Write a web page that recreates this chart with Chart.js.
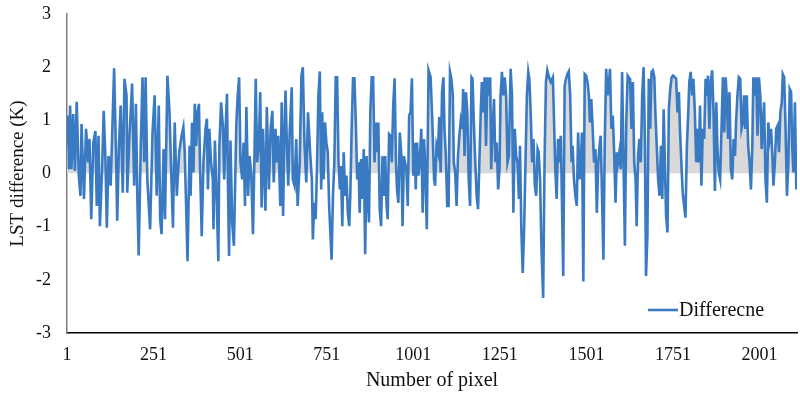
<!DOCTYPE html>
<html><head><meta charset="utf-8">
<script src="https://cdn.jsdelivr.net/npm/chart.js@4/dist/chart.umd.min.js"></script>
<style>html,body{margin:0;padding:0;background:#fff;} canvas{display:block;}</style>
</head><body>
<canvas id="c" width="800" height="398"></canvas>
<script>
// Pixel number (x) of each vertex
const pixelIndex = [
1,4,7,10,14,19,24,29,35,40,43,50,56,62,66,71,77,83,87,92,96,102,107,112,116,121,127,132,137,143,146,151,156,162,167,173,175,181,189,195,200,204,208,214,219,224,228,233,241,248,254,260,266,270,274,280,284,291,297,301,307,312,318,325,332,337,341,349,
355,358,362,366,370,374,378,382,385,390,395,401,405,408,412,417,422,424,428,432,438,441,446,451,455,459,463,466,469,473,478,483,490,494,498,502,507,511,515,519,524,528,533,538,542,546,550,555,559,563,567,571,574,578,584,589,594,598,603,607,611,617,621,625,628,632,636,640,644,650,653,658,663,667,673,678,682,687,692,697,
703,708,711,715,719,723,727,731,735,738,742,746,750,754,758,762,765,769,773,777,781,785,789,792,796,800,804,808,812,816,819,823,827,831,835,839,843,846,850,854,858,862,866,870,873,877,881,885,889,893,897,900,904,908,912,916,920,924,927,931,935,939,943,947,951,954,958,962,966,970,974,977,981,985,989,993,997,1001,1005,1008,1012,1016,1020,1024,1028,1032,1035,1040,1045,
1051,1056,1061,1064,1068,1072,1076,1080,1084,1088,1091,1095,1099,1103,1107,1111,1115,1118,1122,1126,1130,1134,1138,1142,1145,1149,1153,1157,1161,1165,1169,1172,1176,1180,1184,1188,1192,1196,1199,1203,1207,1211,1215,1219,1223,1226,1230,1234,1238,1242,1246,1250,1253,1257,1261,1265,1269,1273,1277,1282,1286,1290,1294,1298,1302,1306,1309,1313,1317,1321,1325,1329,1333,1336,1340,1344,1348,1352,1356,1360,1363,1367,1371,1376,1380,1384,1388,1393,1398,
1404,1407,1411,1415,1419,1423,1427,1430,1434,1438,1442,1446,1450,1454,1458,1461,1465,1469,1473,1477,1481,1485,1488,1492,1496,1500,1504,1508,1511,1515,1519,1523,1527,1531,1535,1539,1542,1546,1550,1554,1558,1562,1566,1569,1573,1577,1581,1585,1589,1592,1596,1600,1604,1608,1612,1616,1620,1623,1627,1631,1635,1639,1643,1646,1650,1654,1658,1662,1666,1670,1673,1677,1681,1685,1689,1693,1697,1700,1704,1708,1712,1716,1720,1724,1727,1731,1735,1739,1743,1747,1751,
1756,1760,1764,1768,1771,1775,1779,1783,1787,1791,1795,1798,1802,1806,1810,1814,1818,1822,1825,1829,1833,1837,1841,1845,1849,1852,1856,1860,1864,1868,1872,1876,1879,1883,1887,1891,1895,1899,1903,1906,1910,1914,1918,1922,1926,1930,1933,1937,1941,1945,1949,1953,1956,1960,1964,1968,1972,1976,1980,1983,1987,1991,1995,1999,2003,2007,2010,2014,2018,2022,2026,2030,2034,2038,2041,2045,2049,2053,2057,2061,2065,2068,2072,2076,2080,2084,2088,2092,2095,2099,2103,2107,2109
];
// LST difference (K) at each vertex
const lstDiff = [
0.52,1.09,0.08,1.28,0.08,1.12,0.05,1.35,-0.04,-0.42,0.93,-0.48,0.84,0.21,0.65,-0.86,0.58,0.8,-0.61,0.71,-0.99,0.02,1.18,0.27,-1.02,0.33,-0.23,0.84,1.98,0.21,-0.89,0.52,1.28,-0.36,1.78,1.47,-0.36,0.65,1.69,-0.23,1.31,-0.42,-1.54,0.52,1.81,0.21,1.81,-0.11,-1.05,0.77,1.47,-0.42,1.28,-0.86,-1.14,0.46,-0.86,1.84,1.15,0.21,-1.02,0.96,-0.42,0.4,0.71,0.87,0.4,-1.65,
0.52,-0.42,0.96,0.02,1.31,0.52,1.15,1.31,0.21,-1.18,0.21,0.84,1.03,-0.3,0.84,0.21,-0.11,-1.05,0.62,-0.17,-1.65,0.52,1.34,0.9,-0.11,0.84,1.5,-0.3,-1.55,0.62,-0.92,-1.36,0.93,1.47,1.81,0.21,-0.11,0.58,-0.61,1.25,-0.42,0.33,0.02,-1.14,0.21,1.78,0.21,0.52,1.53,-0.64,0.84,-0.08,-0.7,1.25,-0.3,0.84,1.18,-0.17,0.84,0.21,0.71,-0.61,1.34,-0.8,0.52,1.56,0.52,-0.23,0.77,1.62,-0.11,-0.23,0.65,-0.61,0.21,1.84,2.0,0.52,-0.17,1.15,
0.4,-0.11,-1.24,-0.55,-0.86,0.14,1.47,1.92,-0.3,1.15,-0.11,0.96,0.58,0.4,-0.61,-1.18,-1.62,-0.42,0.21,1.81,1.81,0.21,-0.3,0.14,-0.99,0.4,-0.42,-0.04,-0.74,-0.99,-0.42,0.84,1.79,1.79,0.96,-0.11,0.21,-0.74,0.27,-0.48,0.46,-1.52,0.33,-0.55,-0.92,1.18,1.81,1.81,0.21,0.96,0.4,0.96,-0.67,-0.99,0.33,-0.42,0.33,-0.61,-0.86,0.74,0.71,0.21,1.28,1.79,0.21,-0.3,-0.55,0.77,0.4,-0.99,0.33,0.21,0.08,-0.61,1.09,1.15,1.79,-0.04,0.58,-0.3,0.58,-0.04,0.27,0.84,-0.74,0.65,0.21,-1.05,1.94,
1.81,0.96,-0.11,-0.23,0.52,0.4,1.06,0.02,1.53,1.81,0.84,0.33,-0.61,-0.61,1.91,1.78,1.47,0.21,0.02,-0.61,0.33,0.71,0.99,0.84,1.59,0.33,1.53,1.15,-0.11,-0.61,1.81,1.78,0.9,0.21,-0.42,-0.67,0.27,1.21,1.72,1.15,1.81,0.52,1.81,1.47,1.81,0.08,0.84,1.4,0.21,0.58,-0.3,0.08,1.47,1.91,1.47,1.81,1.47,0.21,0.33,1.97,1.47,-0.74,0.84,0.33,0.21,-0.48,0.52,-1.05,-1.87,-1.05,0.21,1.47,1.91,1.78,1.15,0.21,0.65,-0.23,-0.42,0.46,0.4,-0.11,-1.36,-2.34,0.21,1.72,1.94,1.81,1.72,
1.81,1.09,0.08,-0.48,0.65,0.21,0.71,-0.42,-1.93,1.65,1.78,1.87,1.92,1.47,0.21,0.52,-0.11,-0.42,-0.61,0.77,-0.11,0.21,0.77,-2.03,1.87,1.84,1.72,1.47,0.96,1.4,0.84,0.21,0.46,-0.74,0.21,0.52,0.71,-0.42,-1.62,0.65,1.97,1.47,1.72,1.97,0.84,1.09,0.4,-0.55,0.4,0.21,0.4,0.08,1.91,0.21,-1.36,0.96,1.84,1.81,1.78,0.84,1.72,0.21,-0.11,-0.99,0.33,0.65,0.21,1.47,2.0,0.52,-1.93,-1.18,1.78,0.84,1.91,1.94,1.81,1.15,0.52,-0.11,-0.42,0.52,-0.48,1.21,0.33,-0.8,-1.11,1.21,1.59,1.81,1.84,
1.81,1.78,1.15,1.53,0.84,0.21,-0.36,-0.61,-0.83,0.52,1.15,1.72,1.91,1.47,1.78,1.15,0.21,0.84,0.21,1.28,-0.23,0.84,0.65,1.78,1.47,1.84,0.84,1.72,1.94,1.15,-0.33,1.34,0.52,0.02,-0.11,0.84,1.81,0.77,1.81,1.47,0.65,1.53,0.08,-0.11,0.65,0.33,0.96,1.47,1.81,1.78,0.84,0.96,1.47,0.84,1.47,0.52,0.21,-0.3,0.52,1.81,1.47,1.81,0.71,1.81,1.47,0.46,0.84,1.34,-0.11,-0.55,0.96,0.65,0.84,0.33,-0.23,0.21,0.84,0.9,0.4,1.15,1.34,1.87,1.81,0.84,-0.42,0.21,1.59,1.53,0.52,0.02,1.34,-0.3,0.2
];
const xTickLabels = [1,251,501,751,1001,1251,1501,1751,2001];
const seriesName = 'Differecne';
const xTitle = 'Number of pixel';
const yTitle = 'LST difference (K)';

const n = Math.min(pixelIndex.length, lstDiff.length);
const points = [];
for (let i = 0; i < n; i++) points.push({x: pixelIndex[i], y: lstDiff[i]});

const FONT = "'Liberation Serif','Times New Roman',serif";
const LINE = '#3a7ac2';

const insideLegend = {
  id: 'insideLegend',
  afterDraw(chart) {
    const ctx = chart.ctx;
    const ds = chart.data.datasets[0];
    const ca = chart.chartArea;
    const y = ca.bottom - 23;
    const x0 = ca.right - 149;
    ctx.save();
    ctx.strokeStyle = ds.borderColor;
    ctx.lineWidth = 2.6;
    ctx.beginPath(); ctx.moveTo(x0, y); ctx.lineTo(x0 + 30, y); ctx.stroke();
    ctx.fillStyle = '#111';
    ctx.font = '20px ' + FONT;
    ctx.textBaseline = 'middle';
    ctx.textAlign = 'left';
    ctx.fillText(ds.label, x0 + 31, y + 1);
    ctx.restore();
  }
};

new Chart(document.getElementById('c'), {
  type: 'line',
  data: { datasets: [{
    label: seriesName,
    data: points,
    borderColor: LINE,
    borderWidth: 2.6,
    pointRadius: 0,
    tension: 0,
    fill: { target: 'origin', above: '#d9d9d9', below: 'rgba(0,0,0,0)' }
  }]},
  options: {
    responsive: false,
    animation: false,
    devicePixelRatio: 1,
    layout: { padding: { left: 0, right: 3, top: 0, bottom: 0 } },
    plugins: { legend: { display: false }, tooltip: { enabled: false } },
    scales: {
      x: {
        type: 'linear', min: 1, max: 2109,
        grid: { display: false, drawTicks: false, tickLength: 0 },
        border: { display: true, color: '#000', width: 1.5 },
        afterBuildTicks: s => { s.ticks = xTickLabels.map(v => ({ value: v })); },
        ticks: { autoSkip: false, maxRotation: 0, padding: 11, color: '#111',
                 font: { family: FONT, size: 18 }, callback: v => String(v) },
        title: { display: true, text: xTitle, color: '#111',
                 font: { family: FONT, size: 20 }, padding: { top: 0, bottom: 5 } },
        afterFit: s => { s.height = 65; s.paddingLeft = 0; s.paddingRight = 3; }
      },
      y: {
        min: -3, max: 3,
        grid: { display: false, drawTicks: false, tickLength: 0 },
        border: { display: true, color: '#7f7f7f', width: 1.5 },
        ticks: { stepSize: 1, padding: 16, color: '#111', font: { family: FONT, size: 18 } },
        title: { display: true, text: yTitle, color: '#111',
                 font: { family: FONT, size: 19 }, padding: { top: 7, bottom: 0 } },
        afterFit: s => { s.width = 67; s.paddingTop = 14; s.paddingBottom = 0; }
      }
    }
  },
  plugins: [insideLegend]
});
</script>
</body></html>
